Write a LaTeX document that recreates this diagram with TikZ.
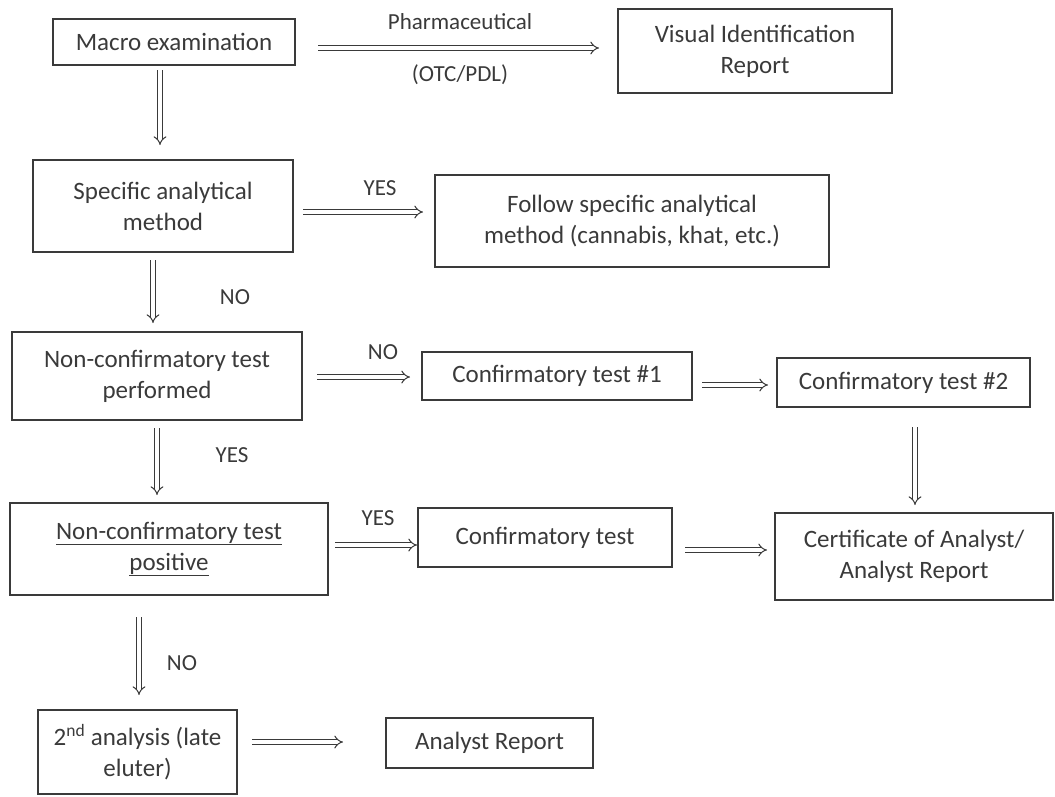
\documentclass[tikz,border=0pt]{standalone}
\usepackage{fontspec}
\setmainfont{Carlito}
\usetikzlibrary{arrows.meta}
\definecolor{ink}{HTML}{3A3A3A}
\tikzset{
  box/.style={draw=ink, line width=1.2pt, text=ink, align=center, inner sep=0pt,
    font=\fontsize{25}{31}\selectfont},
  lbl/.style={text=ink, inner sep=0pt, font=\fontsize{23}{27}\selectfont},
  dar/.style={ink, line width=1pt, double, double distance=3.5pt,
    -{Implies[scale=1.3]}}
}
\begin{document}
\begin{tikzpicture}[x=1pt,y=-1pt]
\useasboundingbox (0,0) rectangle (1055,796);
% boxes
\node[box, minimum width=242pt, minimum height=46pt] (macro) at (174,42) {Macro examination};
\node[box, minimum width=274pt, minimum height=84pt] (visual) at (755,51) {Visual Identification\\Report};
\node[box, minimum width=260pt, minimum height=92pt] (spec) at (163,206) {Specific analytical\\method};
\node[box, minimum width=394pt, minimum height=92pt] (follow) at (632,221) {Follow specific analytical\\method (cannabis, khat, etc.)};
\node[box, minimum width=290pt, minimum height=88pt] (ncperf) at (157,376) {Non-confirmatory test\\performed};
\node[box, minimum width=270pt, minimum height=48pt] (c1) at (557,376) {Confirmatory test \#1};
\node[box, minimum width=253pt, minimum height=49pt] (c2) at (903.5,382.5) {Confirmatory test \#2};
\node[box, minimum width=318pt, minimum height=92pt] (ncpos) at (169,549) {\underline{Non-confirmatory test}\\\underline{positive}};
\node[box, minimum width=254pt, minimum height=59pt] (ctest) at (545,537.5) {Confirmatory test};
\node[box, minimum width=278pt, minimum height=87pt] (cert) at (914,556.5) {Certificate of Analyst/\\Analyst Report};
\node[box, minimum width=199pt, minimum height=84pt] (second) at (137.5,752) {2\textsuperscript{nd} analysis (late\\eluter)};
\node[box, minimum width=207pt, minimum height=50pt] (areport) at (489.5,743) {Analyst Report};
% connector end points
\coordinate (a1s) at (318,48);  \coordinate (a1e) at (599,48);
\coordinate (a2s) at (160,70);  \coordinate (a2e) at (160,145);
\coordinate (a3s) at (303,212); \coordinate (a3e) at (423,212);
\coordinate (a4s) at (153,260); \coordinate (a4e) at (153,323);
\coordinate (a5s) at (317,377); \coordinate (a5e) at (410,377);
\coordinate (a6s) at (702,385); \coordinate (a6e) at (768,385);
\coordinate (a7s) at (157,428); \coordinate (a7e) at (157,495);
\coordinate (a8s) at (335,545); \coordinate (a8e) at (417,545);
\coordinate (a9s) at (685,550); \coordinate (a9e) at (767,550);
\coordinate (a10s) at (915,427); \coordinate (a10e) at (915,505);
\coordinate (a11s) at (139,617); \coordinate (a11e) at (139,695);
\coordinate (a12s) at (252,742); \coordinate (a12e) at (343,742);
% connectors
\draw[dar] (a1s) -- (a1e);
\draw[dar] (a2s) -- (a2e);
\draw[dar] (a3s) -- (a3e);
\draw[dar] (a4s) -- (a4e);
\draw[dar] (a5s) -- (a5e);
\draw[dar] (a6s) -- (a6e);
\draw[dar] (a7s) -- (a7e);
\draw[dar] (a8s) -- (a8e);
\draw[dar] (a9s) -- (a9e);
\draw[dar] (a10s) -- (a10e);
\draw[dar] (a11s) -- (a11e);
\draw[dar] (a12s) -- (a12e);
% labels
\node[lbl] (l1) at (460,22) {Pharmaceutical};
\node[lbl] (l2) at (460,75) {(OTC/PDL)};
\node[lbl] (l3) at (380,188) {YES};
\node[lbl] (l4) at (235,297) {NO};
\node[lbl] (l5) at (383,352) {NO};
\node[lbl] (l6) at (232,455) {YES};
\node[lbl] (l7) at (378,518) {YES};
\node[lbl] (l8) at (182,663) {NO};
\end{tikzpicture}
\end{document}
